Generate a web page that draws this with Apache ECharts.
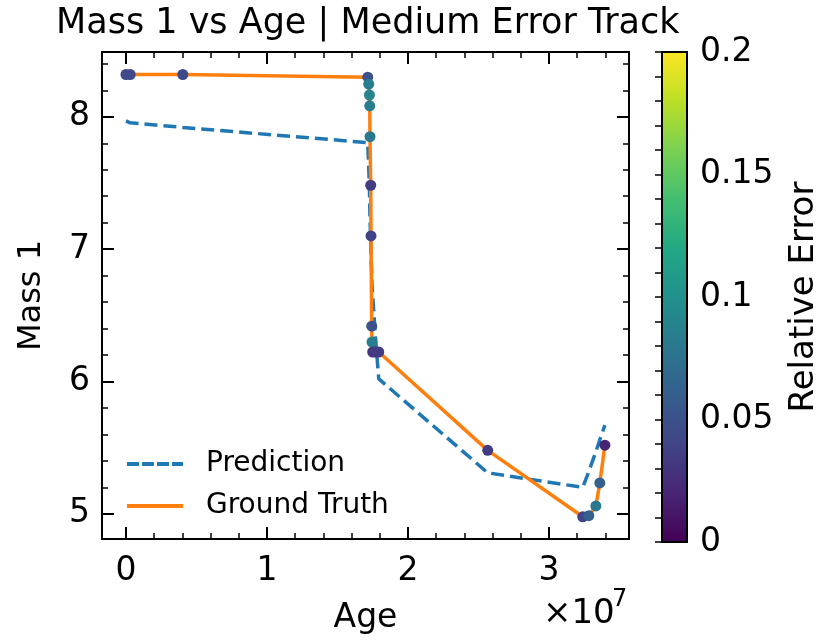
<!DOCTYPE html>
<html>
<head>
<meta charset="utf-8">
<script src="https://cdn.jsdelivr.net/npm/echarts@6/dist/echarts.min.js"></script>
<style>html,body{margin:0;padding:0;background:#fff;}#c{width:832px;height:640px;}</style>
</head>
<body>
<div id="c"></div>
<script>
// Ages in units of 1e7 years
const ageE7 = [0.000, 0.030, 0.403, 1.715, 1.722, 1.727, 1.729, 1.731, 1.736, 1.738, 1.743, 1.745, 1.750, 1.772, 1.793, 2.566, 3.240, 3.283, 3.333, 3.361, 3.397];
const groundTruth = [8.32, 8.32, 8.32, 8.30, 8.247, 8.165, 8.083, 7.85, 7.483, 7.10, 6.418, 6.298, 6.223, 6.223, 6.223, 5.48, 4.978, 4.986, 5.06, 5.234, 5.519];
const prediction = [7.97, 7.955, 7.92, 7.805, 7.62, 7.45, 7.35, 7.22, 7.06, 6.93, 6.83, 6.72, 6.65, 6.30, 6.02, 5.31, 5.20, 5.32, 5.47, 5.56, 5.67];
const relError = [0.043, 0.043, 0.045, 0.05, 0.085, 0.09, 0.085, 0.08, 0.035, 0.038, 0.05, 0.085, 0.03, 0.035, 0.035, 0.035, 0.04, 0.06, 0.08, 0.06, 0.02];
const viridis = ['#440154','#482475','#414487','#355f8d','#2a788e','#21918c','#22a884','#44bf70','#7ad151','#bddf26','#fde725'];

const FONT = 'DejaVu Sans';
const predData = ageE7.map((a, i) => [a, prediction[i]]);
const gtData = ageE7.map((a, i) => [a, groundTruth[i]]);
const ptData = ageE7.map((a, i) => [a, groundTruth[i], relError[i]]);

const G = {left: 102, top: 52, width: 527, height: 490};
const CB = {left: 662, top: 52, width: 25, height: 490};

const isInt = v => Math.abs(v - Math.round(v)) < 1e-6;
const tickCommon = {
  axisLine: {show: true, onZero: false, lineStyle: {color: '#000', width: 2}},
  axisTick: {show: true, inside: true, length: 12, lineStyle: {color: '#000', width: 2}},
  minorTick: {show: true, splitNumber: 5, length: 6, lineStyle: {color: '#000', width: 1.5}},
  splitLine: {show: false},
  minorSplitLine: {show: false}
};
const xRange = {min: -0.17, max: 3.568, splitNumber: 4};
const yRange = {min: 4.81, max: 8.49, splitNumber: 4};

const chart = echarts.init(document.getElementById('c'), null, {renderer: 'canvas'});
const option = {
  backgroundColor: '#fff',
  animation: false,
  textStyle: {fontFamily: FONT},
  title: {
    text: 'Mass 1 vs Age | Medium Error Track',
    left: 56, top: 6, padding: 0,
    textStyle: {fontFamily: FONT, fontSize: 35, fontWeight: 'normal', color: '#000'}
  },
  grid: [
    Object.assign({containLabel: false}, G),
    Object.assign({containLabel: false}, CB)
  ],
  xAxis: [
    Object.assign({type: 'value', gridIndex: 0, position: 'bottom',
      name: 'Age', nameLocation: 'middle', nameGap: 63,
      nameTextStyle: {fontFamily: FONT, fontSize: 33, color: '#000'},
      axisLabel: {show: true, margin: 16, fontFamily: FONT, fontSize: 33, color: '#000',
        formatter: v => isInt(v) ? String(Math.round(v)) : ''}
    }, xRange, tickCommon),
    Object.assign({type: 'value', gridIndex: 0, position: 'top', axisLabel: {show: false}}, xRange, tickCommon),
    {type: 'value', gridIndex: 1, min: 0, max: 1, show: false}
  ],
  yAxis: [
    Object.assign({type: 'value', gridIndex: 0, position: 'left',
      name: 'Mass 1', nameLocation: 'middle', nameGap: 54, nameRotate: 90,
      nameTextStyle: {fontFamily: FONT, fontSize: 32, color: '#000'},
      axisLabel: {show: true, margin: 12, fontFamily: FONT, fontSize: 33, color: '#000',
        formatter: v => isInt(v) ? String(Math.round(v)) : ''}
    }, yRange, tickCommon),
    Object.assign({type: 'value', gridIndex: 0, position: 'right', axisLabel: {show: false}}, yRange, tickCommon),
    {type: 'value', gridIndex: 1, position: 'right', min: 0, max: 0.2, interval: 0.05, z: 10,
      name: 'Relative Error', nameLocation: 'middle', nameGap: 100, nameRotate: 90,
      nameTextStyle: {fontFamily: FONT, fontSize: 34, color: '#000'},
      axisLine: {show: false},
      axisTick: {show: true, inside: true, length: 7, lineStyle: {color: '#000', width: 1.5}},
      minorTick: {show: true, splitNumber: 5, length: 7, lineStyle: {color: '#000', width: 1.5}},
      splitLine: {show: false},
      axisLabel: {show: true, margin: 13, fontFamily: FONT, fontSize: 33, color: '#000',
        formatter: v => (Math.abs(v) < 1e-9 ? '0' : String(parseFloat(v.toFixed(2))))}
    }
  ],
  visualMap: {
    show: false, type: 'continuous', seriesIndex: 2, dimension: 2,
    min: 0, max: 0.2, inRange: {color: viridis}
  },
  legend: {
    orient: 'vertical', left: 127, top: 449, itemGap: 12, padding: 0,
    itemWidth: 56, itemHeight: 4,
    textStyle: {fontFamily: FONT, fontSize: 28, color: '#000', lineHeight: 30, padding: [0, 0, 0, 18]},
    data: [
      {name: 'Prediction', icon: 'path://M0,0h12v4h-12zM15,0h12v4h-12zM30,0h12v4h-12zM45,0h11v4h-11z', itemStyle: {color: '#1f77b4'}},
      {name: 'Ground Truth', icon: 'rect', itemStyle: {color: '#ff7f0e'}}
    ]
  },
  series: [
    {name: 'Prediction', type: 'line', xAxisIndex: 0, yAxisIndex: 0, data: predData,
      showSymbol: false, symbol: 'none', z: 2,
      lineStyle: {color: '#1f77b4', width: 3.5, type: [13, 6]}, itemStyle: {color: '#1f77b4'}},
    {name: 'Ground Truth', type: 'line', xAxisIndex: 0, yAxisIndex: 0, data: gtData,
      showSymbol: false, symbol: 'none', z: 3,
      lineStyle: {color: '#ff7f0e', width: 3.5}, itemStyle: {color: '#ff7f0e'}},
    {name: 'points', type: 'scatter', xAxisIndex: 0, yAxisIndex: 0, data: ptData,
      symbolSize: 11, z: 4, itemStyle: {opacity: 1}},
    {name: 'colorbar', type: 'custom', xAxisIndex: 2, yAxisIndex: 2, data: [[0]], z: 1,
      renderItem: function (params, api) {
        const p0 = api.coord([0, 0]);
        const p1 = api.coord([1, 0.2]);
        const stops = viridis.map((c, i) => ({offset: i / (viridis.length - 1), color: c}));
        return {
          type: 'rect',
          shape: {x: p0[0], y: p1[1], width: p1[0] - p0[0], height: p0[1] - p1[1]},
          style: {
            fill: new echarts.graphic.LinearGradient(0, 1, 0, 0, stops),
            stroke: '#000', lineWidth: 2
          }
        };
      }
    }
  ],
  graphic: [
    {type: 'text', left: 543, top: 597, style: {text: '×10', font: '34px "DejaVu Sans"', fill: '#000'}},
    {type: 'text', left: 612, top: 588, style: {text: '7', font: '24px "DejaVu Sans"', fill: '#000'}}
  ]
};
chart.setOption(option);
</script>
</body>
</html>
